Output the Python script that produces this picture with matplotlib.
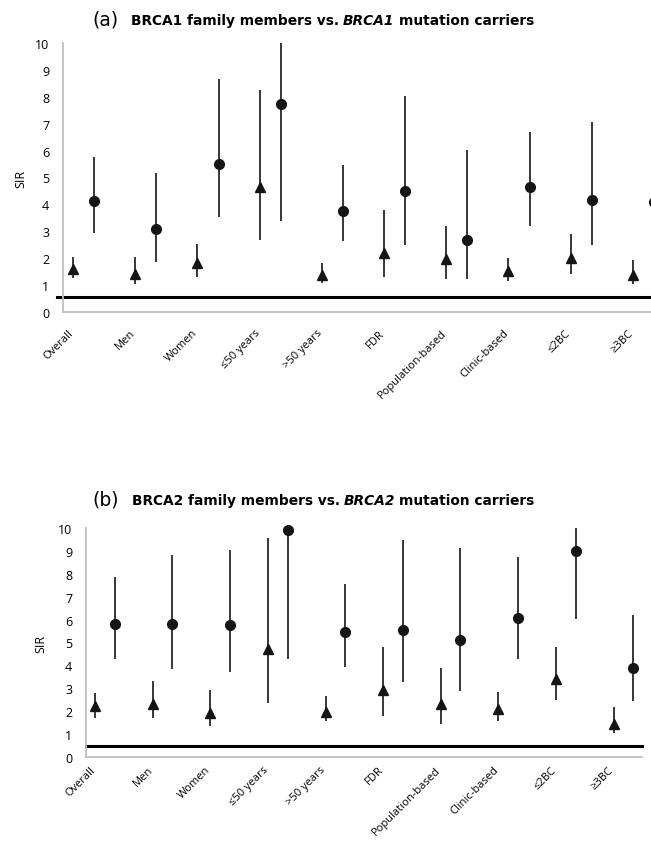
import numpy as np
import matplotlib.pyplot as plt

categories = ['Overall', 'Men', 'Women', '≤50 years', '>50 years', 'FDR',
              'Population-based', 'Clinic-based', '≤2BC', '≥3BC']

# (a) BRCA1: family members (triangles) and mutation carriers (circles)
a_fam = [1.61, 1.43, 1.81, 4.66, 1.38, 2.21, 1.96, 1.53, 2.02, 1.39]
a_fam_lo = [1.28, 1.03, 1.30, 2.68, 1.09, 1.29, 1.23, 1.17, 1.40, 1.05]
a_fam_hi = [2.05, 2.03, 2.52, 8.25, 1.84, 3.78, 3.20, 2.01, 2.89, 1.92]
a_car = [4.12, 3.10, 5.52, 7.75, 3.77, 4.48, 2.69, 4.64, 4.18, 4.08]
a_car_lo = [2.95, 1.87, 3.54, 3.40, 2.63, 2.49, 1.23, 3.21, 2.48, 2.60]
a_car_hi = [5.77, 5.16, 8.65, 11.0, 5.45, 8.03, 6.02, 6.70, 7.08, 6.40]
a_ref = 0.55

# (b) BRCA2
b_fam = [2.21, 2.33, 1.94, 4.73, 1.97, 2.91, 2.33, 2.11, 3.42, 1.46]
b_fam_lo = [1.70, 1.70, 1.35, 2.37, 1.56, 1.79, 1.44, 1.59, 2.47, 1.03]
b_fam_hi = [2.81, 3.30, 2.91, 9.58, 2.65, 4.80, 3.89, 2.84, 4.82, 2.20]
b_car = [5.79, 5.79, 5.76, 9.93, 5.46, 5.56, 5.12, 6.08, 9.00, 3.90]
b_car_lo = [4.26, 3.83, 3.70, 4.26, 3.93, 3.26, 2.87, 4.26, 6.04, 2.43]
b_car_hi = [7.86, 8.81, 9.05, 12.0, 7.57, 9.49, 9.14, 8.72, 10.05, 6.22]
b_ref = 0.5

W, H = 651, 845
fig = plt.figure(figsize=(W / 100, H / 100), dpi=100)
plt.rcParams['font.family'] = ['Open Sans', 'DejaVu Sans']

GRAY = '#BFBFBF'
INK = '#151515'


def panel(rect, xmax, fam, fam_lo, fam_hi, car, car_lo, car_hi, ref,
          ref_start, label_pad, ylab_x):
    ax = fig.add_axes(rect)
    idx = np.arange(len(categories))
    xf = idx + 0.16
    xc = idx + 0.5
    ax.vlines(xf, fam_lo, fam_hi, color=INK, lw=1.2)
    ax.vlines(xc, car_lo, car_hi, color=INK, lw=1.2)
    ax.plot(xf, fam, ls='none', marker='^', ms=7, color=INK, clip_on=False, zorder=3)
    ax.plot(xc, car, ls='none', marker='o', ms=7, color=INK, clip_on=False, zorder=3)
    ax.axhline(ref, xmin=ref_start, xmax=1, color='black', lw=2.2, clip_on=False)

    ax.set_xlim(0, xmax)
    ax.set_ylim(0, 10)
    ax.set_yticks(range(0, 11))
    ax.set_xticks(idx + 0.2)
    ax.set_xticklabels(categories, rotation=45, ha='right', fontsize=8)
    ax.tick_params(axis='x', length=0, pad=label_pad)
    ax.tick_params(axis='y', length=0, pad=10, labelsize=9)
    for s in ['top', 'right']:
        ax.spines[s].set_visible(False)
    for s in ['left', 'bottom']:
        ax.spines[s].set_color(GRAY)
        ax.spines[s].set_linewidth(1.3)
    ax.set_ylabel('SIR', fontsize=9)
    ax.yaxis.set_label_coords(ylab_x, 0.5)
    return ax


panel([63 / W, 1 - 313 / H, (W - 63) / W, 269 / H], (W - 63) / 62.2,
      a_fam, a_fam_lo, a_fam_hi, a_car, a_car_lo, a_car_hi, a_ref,
      -6 / 588, 11, -0.06)
panel([86 / W, 1 - 758 / H, 556 / W, 229 / H], 556 / 57.6,
      b_fam, b_fam_lo, b_fam_hi, b_car, b_car_lo, b_car_hi, b_ref,
      0, 5, -0.07)


def title_row(x0, y_base, tag, gene):
    renderer = fig.canvas.get_renderer()
    bold = dict(fontsize=9.9, fontweight='bold', family='DejaVu Sans')
    pieces = [
        (tag, dict(fontsize=13.5, fontweight='normal', family='DejaVu Sans'), 13),
        ('%s family members vs.' % gene, bold, 4),
        (gene, dict(bold, fontstyle='italic'), 4),
        ('mutation carriers', bold, 0),
    ]
    x = x0
    for s, kw, gap in pieces:
        t = fig.text(x / W, 1 - y_base / H, s, va='baseline', ha='left',
                     color='black', **kw)
        x += t.get_window_extent(renderer).width + gap


title_row(92, 25, '(a)', 'BRCA1')
title_row(92, 505, '(b)', 'BRCA2')

fig.savefig('out.png', dpi=100)
